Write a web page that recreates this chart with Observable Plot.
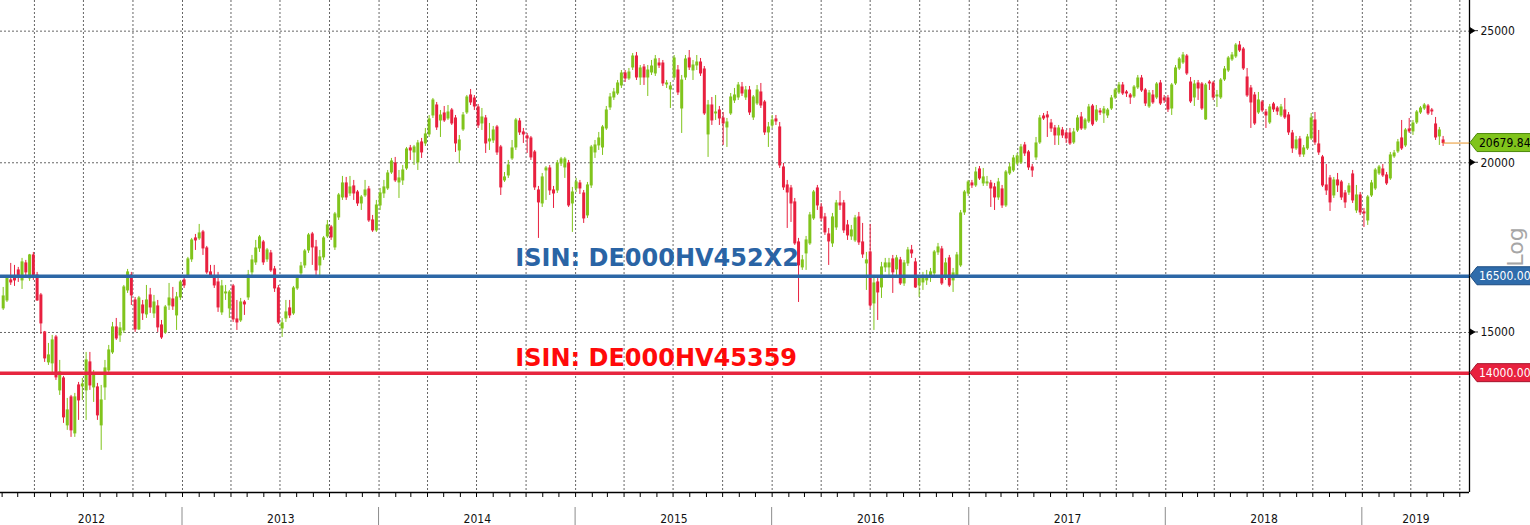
<!DOCTYPE html>
<html>
<head>
<meta charset="utf-8">
<script src="https://cdn.jsdelivr.net/npm/d3@7"></script>
<script src="https://cdn.jsdelivr.net/npm/@observablehq/plot@0.6"></script>
<style>
  html, body { margin: 0; padding: 0; background: #fff; }
  #chart svg { display: block; }
</style>
</head>
<body>
<div id="chart"></div>
<script>
// Weekly bars, first bar closing on this Friday, one bar per week after that
const firstWeek = "2012-02-03";

const open = [
15625,15837,16384,16495,16664,16384,16863,16440,17093,16523,
15972,15001,14258,14234,14874,13597,13876,12814,13437,12641,
13712,13689,13597,14258,13666,13666,12814,13666,14065,14501,
15129,14925,15052,16108,16523,15837,15077,15703,15466,15972,
15492,15677,15180,15001,15703,15864,15440,15918,16384,16523,
16978,17593,17593,17773,17297,16608,16467,16328,15519,16026,
15624,16218,15335,15309,15783,15918,16608,16892,17297,17474,
16978,17151,16692,16163,15103,15361,15624,15492,16163,16580,
16806,17238,17712,17326,16806,17036,17652,17923,17326,18230,
18858,19312,18986,19214,19018,18667,18922,19116,18137,17833,
18604,18986,19148,19674,19977,19344,19410,19808,20492,20353,
20011,20701,20666,20984,21670,22040,21487,21744,21560,21854,
21560,20422,21162,21780,22417,22304,21966,21378,21560,20736,
20771,21234,20526,19410,19575,20147,20526,21451,21055,20913,
20842,20353,19083,18667,19741,19808,19083,19083,19977,19842,
19977,18667,19148,19312,18986,18292,19246,20353,20596,20526,
21198,21966,22341,22493,22800,23269,23072,23507,23949,23111,
23507,23111,23308,23269,23666,23666,22839,22646,23111,23387,
21928,23111,23868,23387,23586,23706,23427,20984,22040,21744,
21854,21560,21234,21744,22228,22341,22723,22341,22608,21597,
22115,22532,22153,21055,21306,21524,21234,19842,19246,19148,
18700,17474,16749,17151,17444,18199,19148,18541,18230,17712,
17444,17923,18667,18667,17984,17652,17533,18230,17474,16863,
17180,15757,16328,16190,16749,16749,16978,16692,16949,16300,
16863,17238,16892,16245,16328,16384,16467,16580,17180,17268,
16467,17007,16384,16523,16806,18385,18986,19312,19246,19775,
19312,19312,19312,19181,18858,19116,18604,19641,19741,19977,
20011,20596,20353,19842,20182,20701,21633,21670,21378,21198,
20948,21126,21019,21019,20701,21126,21597,21198,21451,22003,
21487,21817,21744,21670,21928,22341,22532,22800,22532,22417,
22379,22723,23072,22608,22003,22417,22341,22878,22304,22304,
21928,22878,23467,23706,23949,22916,22341,22878,22839,21524,
22916,22878,22379,22341,23033,23387,23828,23949,24399,24234,
23111,22685,22417,21780,22153,21780,21414,22078,21928,21670,
21854,21670,21019,20492,20806,20284,20492,20842,21487,20631,
20182,19246,19476,18922,19410,19344,18986,19018,19608,18447,
18922,18385,18137,18922,19148,19641,19775,19575,19476,20216,
20388,20842,20596,21162,21091,21414,21780,21928,22003,21854,
21342,20913,20771
];

const high = [
16190,16523,16863,16806,16749,17007,16949,17122,17180,16608,
16026,15027,14724,14925,14925,14306,13924,13414,13482,13528,
13782,13876,14501,14501,14065,13759,13712,14306,14674,15257,
15361,15257,16245,16692,16608,15918,15945,15837,16245,16163,
15972,15837,15309,15703,16300,16190,16053,16384,16495,17036,
17593,17712,18015,17833,17356,16806,16806,16608,16384,16245,
16108,16273,15837,15891,15837,16664,17093,17533,17682,17533,
17297,17238,16777,16245,15361,15837,15837,16218,16523,16892,
17268,17742,17773,17533,17238,17652,18137,17984,18385,18986,
19542,19509,19542,19410,19083,18922,19410,19214,18292,18763,
19148,19410,19741,20147,20182,19741,19909,20526,20596,20596,
20771,20842,21198,21670,22304,22153,21854,22003,22040,21928,
21670,20948,21780,22417,22646,22417,22078,21928,21670,21378,
21270,21306,20596,19674,20079,20771,21560,21560,21198,21019,
20913,20422,19214,19641,19875,19909,19214,20079,20182,20182,
20079,19181,19476,19410,19083,19344,20596,20771,21055,21306,
22003,22493,22685,22994,23387,23387,23467,24071,24112,23586,
23626,23586,23787,23989,23868,23787,22994,22916,23989,23586,
23190,23989,24193,23787,23989,23868,23546,22228,22341,22417,
22003,21780,21560,22493,22685,22916,22916,22762,22762,22417,
22800,22878,22228,21414,21670,21670,21414,19977,19410,19246,
18826,17593,17093,17652,18385,19083,19246,18667,18354,17893,
18354,18763,19051,18763,18137,17984,18292,18385,18045,17180,
18015,16523,16440,16892,17007,17007,17093,17093,17036,16949,
17326,17385,17007,16523,16608,16664,16720,17238,17444,17356,
17007,17093,16720,17180,18447,19083,19410,19410,19842,19875,
19808,19542,19410,19312,19476,19246,19741,19977,20250,20319,
20631,20701,20422,19943,20877,21670,21744,21817,21524,21306,
21306,21234,21126,21198,21198,21670,21780,21560,22078,22078,
22040,21928,22003,21928,22417,22685,22916,22916,22608,22493,
22800,23190,23190,22685,22608,22608,22916,22994,22417,22417,
22878,23586,23908,24112,24030,23111,22994,22994,22916,22878,
22994,22955,22608,23072,23546,23949,24112,24482,24565,24317,
23467,22800,22532,22532,22228,21891,22078,22153,22003,22078,
22304,21780,21126,20913,20913,20596,20984,21744,21780,21126,
20250,19943,19575,19509,19641,19410,19083,19312,19741,19246,
19018,18510,18922,19410,19808,19909,19943,19674,20353,20422,
20806,21487,21198,21560,21487,21854,22003,22115,22078,21928,
21597,21234,20913
];

const low = [
15570,15783,16245,16218,16328,16135,16440,16356,16384,15810,
14951,14258,14185,13947,13829,13482,12858,12706,12556,12556,
12923,13368,12923,13597,13323,12923,12282,13368,14018,14452,
14799,14749,14976,16026,15703,15001,15052,15309,15361,15492,
15361,15001,14824,14951,15571,15571,15052,15837,16163,16440,
16892,17238,17533,17093,16551,16440,16163,15519,15440,15837,
15361,15257,15052,15257,15440,15837,16523,16806,17180,16806,
16892,16608,16053,15206,14874,15257,15361,15440,16108,16495,
16720,17151,16806,16523,16523,16949,17593,17533,17238,18137,
18763,18763,18890,18763,18573,18447,18858,18076,17773,17773,
18447,18826,19083,19608,19344,18826,19246,19741,20079,19909,
19741,20147,20561,20877,21560,21126,20877,21414,21487,21306,
20353,19977,21091,21707,22040,21854,21198,21126,20319,20422,
20666,20250,18922,19344,19476,20079,20422,20948,20666,20319,
20079,19083,17593,18541,18763,18922,18510,18986,19875,19476,
18541,17773,19018,18954,18045,18199,19148,20147,20422,20250,
21126,21854,22228,22417,22685,22916,22994,23387,22994,22800,
22800,22379,23190,23151,23467,22762,22685,21928,22994,22417,
21019,22994,23387,22994,23387,23151,21670,20182,21306,21487,
21306,20596,20526,21670,22115,22228,22379,22228,21670,21487,
22040,21928,20948,20526,21198,21306,19808,19083,17893,18076,
17385,15783,16664,16664,17385,18137,18447,18107,17682,16806,
17326,17833,18447,17742,17533,17533,17474,17385,17007,16108,
15624,15052,15309,15891,16608,16523,16026,16523,16245,16218,
16777,17007,16163,15918,16108,16245,16328,16495,17093,16245,
16384,16190,16053,16440,16749,18292,18890,19148,19181,19410,
19214,19214,18541,18447,18763,18510,18541,19575,19674,19909,
19943,20216,19741,19509,20079,20631,21487,20877,21055,20596,
20596,20842,20666,20596,20631,21055,21126,21126,21378,21270,
21414,21670,21378,21560,21854,22266,22455,22417,22341,22078,
22304,22646,22532,22003,21928,22078,22266,22040,22115,21780,
21670,22800,23387,23626,23190,22115,22003,22228,21854,21487,
22608,22228,21966,22266,22955,23308,23747,23868,24112,23387,
22341,21198,21306,21707,21780,21198,21342,21780,21670,21597,
21524,20948,20319,20422,20182,20182,20422,20771,20596,20250,
19181,18922,18416,18826,19018,18763,18510,18922,18667,18354,
18292,17923,17984,18858,19083,19575,19509,19246,19410,20147,
20319,20422,20526,21019,20948,21342,21707,21854,21670,21670,
20771,20596,20561
];

const close = [
15945,16440,16328,16384,16467,16892,16608,17093,16523,15837,
15232,14355,14428,14799,13900,14018,12989,13144,12706,13437,
13368,13735,14306,13712,13994,13033,13368,14113,14550,15129,
14849,15103,16190,16608,15972,15077,15891,15492,15837,15650,
15783,15129,14874,15650,15891,15677,15918,16328,16245,16978,
17533,17533,17742,17297,16608,16495,16245,15650,16218,16053,
16053,15335,15257,15783,15730,16523,16949,17297,17623,16892,
17238,16664,16163,15257,15232,15519,15440,16163,16467,16777,
17209,17682,17326,16664,17036,17593,17984,17623,18323,18922,
19312,18858,19181,18986,18667,18858,19083,18137,17833,18604,
18986,19181,19641,20045,19410,19476,19741,20457,20422,20526,
20666,20353,20984,21524,22228,21234,21670,21487,21780,21378,
20666,20771,21670,22341,22153,22003,21306,21597,20666,20806,
21126,20353,19181,19509,19909,20492,21487,21055,20984,20842,
20182,19181,18700,19509,19808,19083,18986,19977,20113,20113,
18604,19018,19344,19148,18199,19246,20526,20596,20842,21234,
21854,22341,22532,22878,23269,23072,23308,23949,23111,23467,
23111,23387,23546,23828,23586,22878,22878,22762,23868,22532,
22994,23828,23507,23586,23706,23269,21744,22040,21487,21780,
21560,21378,21414,22341,22417,22800,22493,22608,21780,22341,
22608,22040,21055,21234,21487,21451,19909,19181,19018,18667,
17444,16806,16949,17533,18292,19018,18604,18199,17773,17503,
18230,18667,18604,17833,17682,17833,18199,17474,17122,16949,
15703,16300,16053,16749,16863,16863,16608,17007,16300,16863,
17238,17151,16190,16440,16467,16467,16608,17180,17326,16300,
16863,16245,16580,17093,18354,19018,19344,19246,19674,19476,
19509,19344,19148,18858,19344,18604,19674,19842,20147,20216,
20526,20319,19842,19741,20666,21560,21560,21597,21198,20948,
21198,20948,20842,20666,21055,21560,21198,21487,21966,21342,
21854,21780,21891,21854,22304,22608,22800,22493,22493,22341,
22723,23072,22608,22115,22493,22153,22839,22115,22228,21891,
22800,23467,23828,23989,23269,22191,22839,22685,21928,22800,
22878,22341,22417,22994,23427,23868,23989,24399,24193,23467,
22417,22153,21378,22228,21854,21670,21966,21891,21817,21966,
21597,21055,20492,20771,20284,20492,20877,21560,20701,20353,
19246,19083,18700,19410,19246,18858,18700,19214,18763,18922,
18385,18354,18858,19312,19741,19842,19575,19312,20250,20319,
20701,20492,21126,21091,21378,21780,21928,22040,21744,21817,
20877,21126,20679.84
];

// Reference levels and their labels
const levels = [16500, 14000];
const levelLabels = ["ISIN: DE000HV452X2", "ISIN: DE000HV45359"];
const levelLineColors = ["#2c67a6", "#e6263f"];
const levelTextColors = ["#2a64a5", "#ff0a0a"];
const levelTagColors = ["#2f6cab", "#e8213e"];
const labelStart = "2014-09-11";

// Axis values
const yTicks = [15000, 20000, 25000];
const yearLabels = [2012, 2013, 2014, 2015, 2016, 2017, 2018, 2019];
const xStart = "2012-01-29", xEnd = "2019-07-19";
const yMin = 11436, yMax = 26333;

const lastPrice = close[close.length - 1];

const UP = "#80c41c", DOWN = "#e8203f";
const t0 = new Date(firstWeek);
const bars = close.map((c, i) => ({
  date: d3.utcDay.offset(t0, 7 * i),
  open: open[i], high: high[i], low: low[i], close: c,
  up: c >= open[i]
}));
const lastDate = bars[bars.length - 1].date;

const x0 = new Date(xStart), x1 = new Date(xEnd);
const quarters = d3.utcMonth.every(3).range(x0, x1);
const months = d3.utcMonth.range(x0, x1);
const yearStarts = yearLabels.map(y => new Date(Date.UTC(y, 0, 1))).filter(d => d > x0);
const yearMids = yearLabels.map(y => {
  const a = new Date(Math.max(Date.UTC(y, 0, 1), +x0));
  const b = new Date(Math.min(Date.UTC(y + 1, 0, 1), +x1));
  return {year: y, date: new Date((+a + +b) / 2)};
});

const levelRows = levels.map((v, i) => ({v, label: levelLabels[i], line: levelLineColors[i], text: levelTextColors[i]}));

const chart = Plot.plot({
  width: 1530,
  height: 525,
  marginLeft: 0,
  marginRight: 61,
  marginTop: 0,
  marginBottom: 33,
  style: {fontFamily: "'DejaVu Sans Condensed', 'Liberation Sans', sans-serif", fontSize: "12px", background: "#fff"},
  x: {type: "utc", domain: [x0, x1], axis: null},
  y: {type: "log", domain: [yMin, yMax], axis: null},
  marks: [
    // dotted grid
    Plot.ruleY(yTicks, {stroke: "#666", strokeDasharray: "2,2", strokeWidth: 1}),
    Plot.ruleX(quarters, {stroke: "#666", strokeDasharray: "2,2", strokeWidth: 1}),
    // candle wicks and bodies
    Plot.ruleX(bars, {x: "date", y1: "low", y2: "high", stroke: d => d.up ? UP : DOWN, strokeWidth: 1}),
    Plot.ruleX(bars, {
      x: "date",
      y1: d => Math.max(d.open, d.close),
      y2: d => Math.min(d.open, d.close),
      stroke: d => d.up ? UP : DOWN,
      strokeWidth: 3,
      insetTop: -0.5,
      insetBottom: -0.5
    }),
    // reference levels
    Plot.ruleY(levelRows, {y: "v", stroke: "line", strokeWidth: 3.5}),
    Plot.ruleY([lastPrice], {x1: lastDate, x2: x1, stroke: "#e8952a", strokeWidth: 1}),
    Plot.text([levelRows[0]], {
      x: () => new Date(labelStart), y: "v", text: "label", fill: "text",
      textAnchor: "start", lineAnchor: "middle", dy: -18,
      fontSize: 24, fontWeight: "bold", fontFamily: "'DejaVu Sans', sans-serif"
    }),
    Plot.text([levelRows[1]], {
      x: () => new Date(labelStart), y: "v", text: "label", fill: "text",
      textAnchor: "start", lineAnchor: "middle", dy: -15,
      fontSize: 24, fontWeight: "bold", fontFamily: "'DejaVu Sans', sans-serif"
    }),
    // axes lines
    Plot.ruleY([yMin], {stroke: "#000", strokeWidth: 1.3}),
    Plot.ruleX([x1], {stroke: "#000", strokeWidth: 1.3}),
    Plot.axisX(months, {anchor: "bottom", tickSize: 5, tickFormat: () => "", stroke: "#000", label: null}),
    // year labels
    Plot.text(yearMids, {x: "date", text: d => String(d.year), frameAnchor: "bottom", lineAnchor: "bottom", dy: 30, fill: "#111", fontSize: 12}),
    // right axis labels
    Plot.text(yTicks, {y: d => d, text: d => String(d), frameAnchor: "right", textAnchor: "start", dx: 11, fill: "#111", fontSize: 12})
  ]
});

document.getElementById("chart").appendChild(chart);

// Decorations drawn through the plot's own scales
const xs = chart.scale("x"), ys = chart.scale("y");
const svg = d3.select(chart);
const xr = xs.apply(x1);

// year separators below the axis
svg.append("g").attr("stroke", "#8c8c8c").selectAll("line").data(yearStarts).join("line")
  .attr("x1", d => xs.apply(d)).attr("x2", d => xs.apply(d))
  .attr("y1", 507).attr("y2", 525);

// tick markers on the value axis
svg.append("g").selectAll("path").data(yTicks).join("path")
  .attr("d", d => { const y = ys.apply(d); return `M${xr + 1},${y - 3}L${xr + 6},${y}L${xr + 1},${y + 3}Z M${xr + 6},${y}H${xr + 9}`; })
  .attr("fill", "#000").attr("stroke", "#000").attr("stroke-width", 0.8);

// price tags
const tags = [
  {v: lastPrice, fill: UP, stroke: "#4d8a0a", color: "#000"},
  {v: levels[0], fill: levelTagColors[0], stroke: "#1d4d82", color: "#fff"},
  {v: levels[1], fill: levelTagColors[1], stroke: "#a5142c", color: "#fff"}
];
const tg = svg.append("g").selectAll("g").data(tags).join("g")
  .attr("transform", d => `translate(${xr},${ys.apply(d.v)})`);
tg.append("path")
  .attr("d", "M1,0L8,-9H70V9H8Z")
  .attr("fill", d => d.fill).attr("stroke", d => d.stroke).attr("stroke-width", 1);
tg.append("text")
  .attr("x", 10).attr("dy", "0.36em")
  .attr("text-anchor", "start")
  .attr("fill", d => d.color)
  .attr("font-size", 12)
  .text(d => d.v.toFixed(2));

// scale type note
svg.append("text")
  .attr("transform", `translate(${xr + 46},${247}) rotate(-90)`)
  .attr("text-anchor", "middle").attr("dy", "0.35em")
  .attr("font-family", "'DejaVu Sans', sans-serif")
  .attr("font-size", 22).attr("fill", "#a6a6a6")
  .text("Log");
</script>
</body>
</html>
